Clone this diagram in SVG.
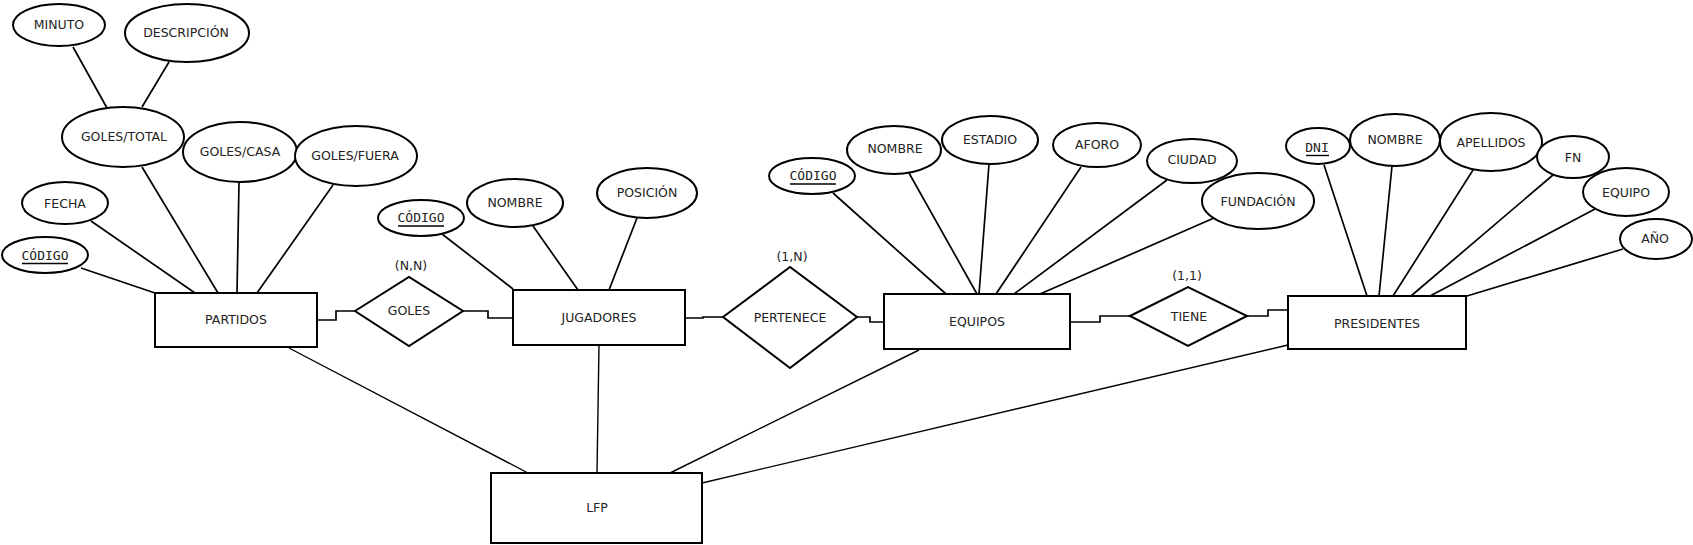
<svg xmlns="http://www.w3.org/2000/svg" width="1693" height="545" viewBox="0 0 1693 545">
<style>
.s{fill:#fff;stroke:#000;stroke-width:2}
.t{font-family:"DejaVu Sans",sans-serif;font-size:12.5px;fill:#222;text-anchor:middle}
.m{font-family:"DejaVu Sans Mono",monospace;font-size:13px;fill:#222;text-anchor:middle}
.u{stroke:#000;stroke-width:1.4}
.l{fill:none;stroke:#000;stroke-width:1.7}
.f{fill:none;stroke:#000;stroke-width:1.4}
</style>
<rect width="1693" height="545" fill="#fff"/>
<g id="connectors">
<path class="l" d="M73 47L107 108M169 62L142 107"/>
<path class="l" d="M81 268L155 293M91 221L195 293M142 167L218 293M239 183L237 293M333 185L257 293"/>
<path class="l" d="M317 320H336V311H355M463 311H488V318H513"/>
<path class="l" d="M442 234L513 289M533 226L578 290M637 218L609 290"/>
<path class="l" d="M685 318H703V317H723M857 317H870V322H884"/>
<path class="l" d="M833 193L946 294M909 173L977 294M989 164L979 294M1081 167L996 294M1167 180L1014 294M1214 218L1040 294"/>
<path class="l" d="M1070 322H1100V316H1130M1247 316H1268V310H1288"/>
<path class="l" d="M1324 165L1367 296M1392 166L1379 296M1473 170L1393 296M1553 175L1411 296M1595 209L1430 296M1623 249L1467 296"/>
<path class="f" d="M289 348L528 473M599 345L597 473M919 350L670 473M1288 345L702 483"/>
</g>
<g id="minuto"><ellipse class="s" cx="59" cy="25" rx="46" ry="21"/><text class="t" x="59" y="29">MINUTO</text></g>
<g id="descripcion"><ellipse class="s" cx="187" cy="33" rx="62" ry="29"/><text class="t" x="186" y="37">DESCRIPCIÓN</text></g>
<g id="goles-total"><ellipse class="s" cx="123" cy="137" rx="61" ry="30"/><text class="t" x="124" y="141">GOLES/TOTAL</text></g>
<g id="goles-casa"><ellipse class="s" cx="240" cy="152" rx="57" ry="30"/><text class="t" x="240" y="156">GOLES/CASA</text></g>
<g id="goles-fuera"><ellipse class="s" cx="356" cy="156" rx="61" ry="30"/><text class="t" x="355" y="160">GOLES/FUERA</text></g>
<g id="fecha"><ellipse class="s" cx="65" cy="203" rx="43" ry="21"/><text class="t" x="65" y="208">FECHA</text></g>
<g id="codigo-partidos"><ellipse class="s" cx="45" cy="255" rx="43" ry="18"/><text class="m" x="45" y="260">CÓDIGO</text><line class="u" x1="22" y1="263.5" x2="68" y2="263.5"/></g>
<g id="partidos"><rect class="s" x="155" y="293" width="162" height="54"/><text class="t" x="236" y="324">PARTIDOS</text></g>
<g id="goles"><path class="s" d="M355 311L409 277L463 311L409 346Z"/><text class="t" x="409" y="315">GOLES</text><text class="t" x="411" y="270">(N,N)</text></g>
<g id="codigo-jugadores"><ellipse class="s" cx="421" cy="218" rx="43" ry="18"/><text class="m" x="421" y="222">CÓDIGO</text><line class="u" x1="398" y1="226" x2="444" y2="226"/></g>
<g id="nombre-jugadores"><ellipse class="s" cx="515" cy="203" rx="48" ry="24"/><text class="t" x="515" y="207">NOMBRE</text></g>
<g id="posicion"><ellipse class="s" cx="647" cy="193" rx="50" ry="25"/><text class="t" x="647" y="197">POSICIÓN</text></g>
<g id="jugadores"><rect class="s" x="513" y="290" width="172" height="55"/><text class="t" x="599" y="322">JUGADORES</text></g>
<g id="pertenece"><path class="s" d="M723 317L790 267L857 317L790 368Z"/><text class="t" x="790" y="322">PERTENECE</text><text class="t" x="792" y="261">(1,N)</text></g>
<g id="codigo-equipos"><ellipse class="s" cx="812" cy="176" rx="43" ry="18"/><text class="m" x="813" y="180">CÓDIGO</text><line class="u" x1="790" y1="184" x2="836" y2="184"/></g>
<g id="nombre-equipos"><ellipse class="s" cx="894" cy="150" rx="47" ry="24"/><text class="t" x="895" y="153">NOMBRE</text></g>
<g id="estadio"><ellipse class="s" cx="990" cy="140" rx="48" ry="24"/><text class="t" x="990" y="144">ESTADIO</text></g>
<g id="aforo"><ellipse class="s" cx="1097" cy="145" rx="44" ry="22"/><text class="t" x="1097" y="149">AFORO</text></g>
<g id="ciudad"><ellipse class="s" cx="1192" cy="161" rx="45" ry="22"/><text class="t" x="1192" y="164">CIUDAD</text></g>
<g id="fundacion"><ellipse class="s" cx="1258" cy="201" rx="56" ry="28"/><text class="t" x="1258" y="206">FUNDACIÓN</text></g>
<g id="equipos"><rect class="s" x="884" y="294" width="186" height="55"/><text class="t" x="977" y="326">EQUIPOS</text></g>
<g id="tiene"><path class="s" d="M1130 316L1188 287L1247 316L1188 346Z"/><text class="t" x="1189" y="321">TIENE</text><text class="t" x="1187" y="280">(1,1)</text></g>
<g id="dni"><ellipse class="s" cx="1318" cy="146" rx="32" ry="18"/><text class="m" x="1317" y="152">DNI</text><line class="u" x1="1306" y1="155.5" x2="1329" y2="155.5"/></g>
<g id="nombre-presidentes"><ellipse class="s" cx="1395" cy="140" rx="45" ry="26"/><text class="t" x="1395" y="144">NOMBRE</text></g>
<g id="apellidos"><ellipse class="s" cx="1491" cy="142" rx="51" ry="29"/><text class="t" x="1491" y="147">APELLIDOS</text></g>
<g id="fn"><ellipse class="s" cx="1573" cy="157" rx="36" ry="21"/><text class="t" x="1573" y="162">FN</text></g>
<g id="equipo"><ellipse class="s" cx="1626" cy="192" rx="43" ry="24"/><text class="t" x="1626" y="197">EQUIPO</text></g>
<g id="ano"><ellipse class="s" cx="1656" cy="239" rx="36" ry="20"/><text class="t" x="1655" y="243">AÑO</text></g>
<g id="presidentes"><rect class="s" x="1288" y="296" width="178" height="53"/><text class="t" x="1377" y="328">PRESIDENTES</text></g>
<g id="lfp"><rect class="s" x="491" y="473" width="211" height="70"/><text class="t" x="597" y="512">LFP</text></g>
</svg>
